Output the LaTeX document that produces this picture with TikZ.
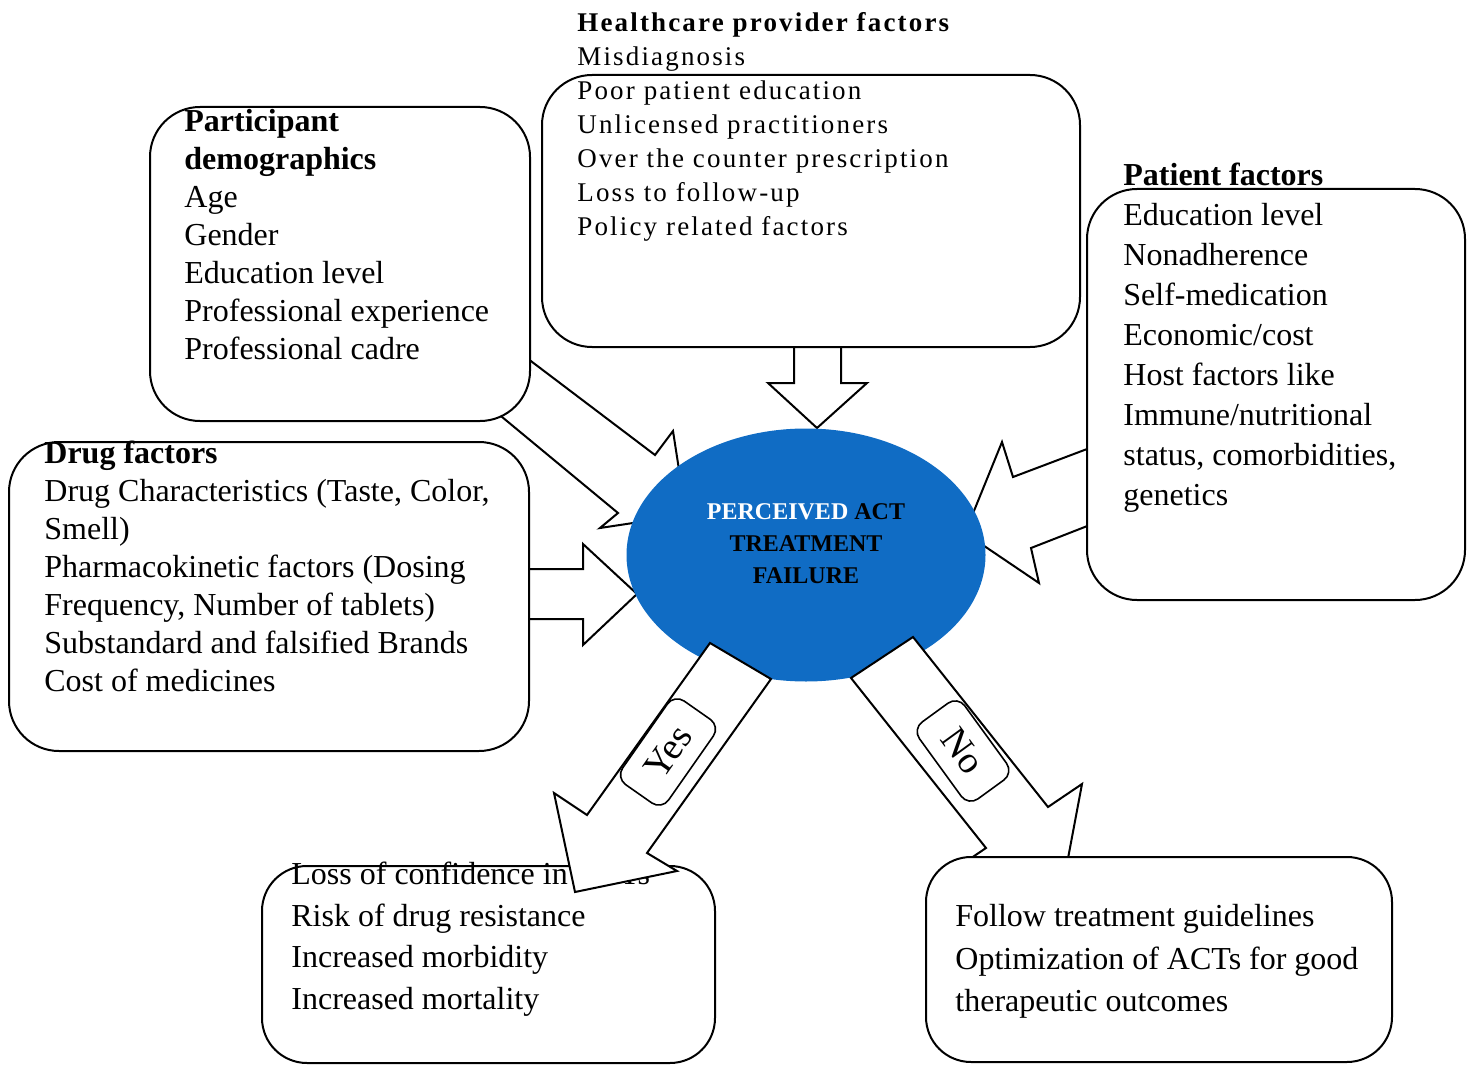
\documentclass[tikz,border=0pt]{standalone}
\usepackage{fontspec}
\setmainfont{Liberation Serif}
\usepackage{xcolor}
\usetikzlibrary{shapes.geometric}
\definecolor{actblue}{RGB}{16,108,196}

\begin{document}
\begin{tikzpicture}[x=0.5pt, y=-0.5pt,
    factorbox/.style={draw, line width=1pt, fill=white, rounded corners=#1},
    factorbox/.default=25pt,
    bigarrow/.style={draw, line width=1pt, fill=white},
    factortext/.style={anchor=north west, align=left, inner sep=0pt, font=\fontsize{16}{#1}\selectfont},
    factortext/.default=19,
    answertag/.style={draw, line width=0.8pt, fill=white, rounded corners=6pt, inner sep=0pt,
                      minimum width=#1, minimum height=28pt, font=\fontsize{19}{19}\selectfont},
]
\useasboundingbox (0,0) rectangle (1468,1065);

\draw[bigarrow] (794,340) -- (794,383) -- (768,383) -- (817,428) -- (867,383) -- (841,383) -- (841,340) -- cycle;
\draw[bigarrow] (515,349) -- (655,455) -- (673,431) -- (686,515) -- (600,528) -- (618,513) -- (490,407) -- cycle;
\draw[bigarrow] (520,569) -- (583,569) -- (583,544) -- (637,594) -- (583,645) -- (583,619) -- (520,619) -- cycle;
\draw[bigarrow] (1095,446) -- (1013,477) -- (1002,442) -- (965,533) -- (1039,583) -- (1031,548) -- (1095,523) -- cycle;

\draw[factorbox] (150,107) rectangle (530,421);
\draw[factorbox] (542,75) rectangle (1080,347);
\draw[factorbox] (1087,189) rectangle (1465,600);
\draw[factorbox] (9,442) rectangle (529,751);

\node[factortext] (demo) at (184,109) {\textbf{Participant}\\\textbf{demographics}\\Age\\Gender\\Education level\\Professional experience\\Professional cadre};
\node[factortext, font=\fontsize{13.5}{17}\selectfont\addfontfeatures{LetterSpace=8}] (provider) at (577,12)
    {\textbf{Healthcare provider factors}\\Misdiagnosis\\Poor patient education\\Unlicensed practitioners\\Over the counter prescription\\Loss to follow-up\\Policy related factors};
\node[factortext=20] (patient) at (1123,163) {\textbf{Patient factors}\\Education level\\Nonadherence\\Self-medication\\Economic/cost\\Host factors like\\Immune/nutritional\\status, comorbidities,\\genetics};
\node[factortext] (drug) at (44,441) {\textbf{Drug factors}\\Drug Characteristics (Taste, Color,\\Smell)\\Pharmacokinetic factors (Dosing\\Frequency, Number of tablets)\\Substandard and falsified Brands\\Cost of medicines};

\node[ellipse, fill=actblue, minimum width=179.5pt, minimum height=126.5pt, inner sep=0pt] (failure) at (806,555) {};
\node[align=center, inner sep=0pt, font=\fontsize{12}{16}\bfseries\selectfont] (failtext) at ([yshift=5.5pt]failure.center)
    {\textcolor{white}{PERCEIVED} ACT\\TREATMENT\\FAILURE};

\draw[factorbox=22.5pt] (262,866) rectangle (715,1063);
\node[factortext=20.7] (risk) at (291,862) {Loss of confidence in ACTs\\Risk of drug resistance\\Increased morbidity\\Increased mortality};
\draw[bigarrow] (710,643) -- (587,815) -- (554,793) -- (575,892) -- (677,871) -- (647,853) -- (771,679) -- cycle;
\node[answertag=51pt, rotate=55] (yes) at (668,752) {Yes};

\draw[bigarrow] (913,637) -- (1048,807) -- (1082,784) -- (1063,885) -- (952,871) -- (986,848) -- (851,678) -- cycle;
\node[answertag=47.5pt, rotate=-54] (no) at (963,751) {No};
\draw[factorbox=22.5pt] (926,857) rectangle (1392,1062);
\node[factortext=21.25] (guide) at (955,904) {Follow treatment guidelines\\Optimization of ACTs for good\\therapeutic outcomes};
\end{tikzpicture}
\end{document}
